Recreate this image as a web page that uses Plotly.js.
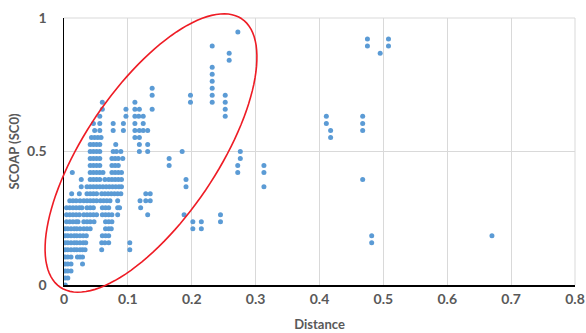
<!DOCTYPE html>
<html>
<head>
<meta charset="utf-8">
<script src="https://cdn.plot.ly/plotly-3.0.1.min.js"></script>
<style>
  html, body { margin: 0; padding: 0; background: #fff; }
  #chart { width: 586px; height: 333px; }
</style>
</head>
<body>
<div id="chart"></div>
<script>
// SCOAP levels are multiples of 1/38; each row lists the Distance values seen at that level
const STEP = 1 / 38;
const rowLevels = [0,1,2,3,4,5,6,7,8,9,10,11,12,13,14,15,16,17,18,19,20,21,22,23,24,25,26,27,28,29,30,31,32,33,34,35,36];
const rowDistances = [
  [0.002],
  [0.002, 0.006],
  [0.002, 0.006, 0.011],
  [0.002, 0.006, 0.011, 0.029],
  [0.002, 0.006, 0.011, 0.021, 0.025, 0.029],
  [0.002, 0.006, 0.011, 0.016, 0.020, 0.025, 0.029, 0.033, 0.059, 0.103],
  [0.002, 0.006, 0.011, 0.016, 0.020, 0.025, 0.030, 0.034, 0.059, 0.064, 0.070, 0.103],
  [0.002, 0.006, 0.011, 0.016, 0.020, 0.025, 0.030, 0.035, 0.060, 0.065, 0.070],
  [0.002, 0.006, 0.011, 0.016, 0.020, 0.025, 0.031, 0.036, 0.041, 0.065, 0.070, 0.074, 0.2017, 0.215],
  [0.004, 0.009, 0.014, 0.019, 0.022, 0.031, 0.036, 0.041, 0.047, 0.065, 0.070, 0.075, 0.2017, 0.215, 0.245],
  [0.004, 0.009, 0.014, 0.019, 0.024, 0.031, 0.036, 0.041, 0.046, 0.051, 0.060, 0.065, 0.070, 0.075, 0.084, 0.131, 0.188, 0.245],
  [0.004, 0.009, 0.014, 0.019, 0.024, 0.028, 0.036, 0.041, 0.046, 0.060, 0.065, 0.070, 0.084, 0.087, 0.120],
  [0.009, 0.014, 0.019, 0.025, 0.031, 0.036, 0.041, 0.046, 0.051, 0.057, 0.062, 0.067, 0.072, 0.084, 0.119, 0.128, 0.135],
  [0.012, 0.024, 0.036, 0.041, 0.046, 0.051, 0.059, 0.064, 0.069, 0.074, 0.079, 0.084, 0.089, 0.128, 0.135],
  [0.027, 0.036, 0.041, 0.046, 0.051, 0.056, 0.061, 0.066, 0.071, 0.076, 0.081, 0.086, 0.090, 0.191, 0.313],
  [0.027, 0.041, 0.046, 0.051, 0.056, 0.064, 0.070, 0.075, 0.080, 0.085, 0.090, 0.191, 0.4676],
  [0.013, 0.041, 0.046, 0.051, 0.056, 0.061, 0.075, 0.080, 0.085, 0.090, 0.272, 0.313],
  [0.041, 0.046, 0.051, 0.056, 0.075, 0.080, 0.085, 0.1646, 0.272, 0.313],
  [0.041, 0.046, 0.051, 0.056, 0.075, 0.080, 0.085, 0.092, 0.1646, 0.276],
  [0.041, 0.046, 0.051, 0.056, 0.077, 0.082, 0.089, 0.118, 0.131, 0.185, 0.276],
  [0.041, 0.046, 0.051, 0.056, 0.081, 0.118, 0.131],
  [0.043, 0.048, 0.053, 0.058, 0.111, 0.118, 0.4174],
  [0.048, 0.056, 0.077, 0.093, 0.111, 0.118, 0.124, 0.131, 0.4174, 0.4676],
  [0.046, 0.056, 0.077, 0.093, 0.111, 0.124, 0.4107, 0.4676],
  [0.056, 0.097, 0.111, 0.117, 0.124, 0.2524, 0.4107, 0.4676],
  [0.060, 0.097, 0.111, 0.118, 0.138, 0.2524],
  [0.060, 0.111, 0.198, 0.232, 0.2524],
  [0.138, 0.198, 0.232, 0.2524],
  [0.138, 0.232],
  [0.232],
  [0.232],
  [0.232],
  [0.2586],
  [0.2586, 0.495],
  [0.232, 0.475, 0.508],
  [0.475, 0.508],
  [0.2722]
];
// isolated points low on the right
const extraDistance = [0.4817, 0.4817, 0.670];
const extraScoapLevel = [7, 6, 7];

const xTickVals = [0, 0.1, 0.2, 0.3, 0.4, 0.5, 0.6, 0.7, 0.8];
const xTickText = ['0', '0.1', '0.2', '0.3', '0.4', '0.5', '0.6', '0.7', '0.8'];
const yTickVals = [0, 0.5, 1];
const yTickText = ['0', '0.5', '1'];

const distance = [];
const scoap = [];
rowLevels.forEach((lvl, i) => {
  (rowDistances[i] || []).forEach(d => { distance.push(d); scoap.push(lvl * STEP); });
});
extraDistance.forEach((d, i) => { distance.push(d); scoap.push(extraScoapLevel[i] * STEP); });

// Highlight ellipse (pixel-space geometry of the plot area, converted to paper units)
const M = {l: 64, r: 11, t: 18, b: 48};
const W = 586, H = 333;
const pw = W - M.l - M.r, ph = H - M.t - M.b;
const ell = {cx: 151, cy: 153, a: 162, b: 66, ux: 0.56, uy: -0.8285};
let path = '';
for (let i = 0; i <= 120; i++) {
  const t = i / 120 * 2 * Math.PI;
  const ca = ell.a * Math.cos(t), sb = ell.b * Math.sin(t);
  const px = ell.cx + ca * ell.ux - sb * ell.uy;
  const py = ell.cy + ca * ell.uy + sb * ell.ux;
  const fx = (px - M.l) / pw;
  const fy = (H - M.b - py) / ph;
  path += (i === 0 ? 'M ' : ' L ') + fx.toFixed(4) + ',' + fy.toFixed(4);
}
path += ' Z';

const FONT = 'Lato, "Open Sans", sans-serif';
const tickFont = {family: FONT, size: 14, color: '#595959', weight: 'bold'};

const trace = {
  x: distance,
  y: scoap,
  type: 'scatter',
  mode: 'markers',
  marker: {size: 5, color: '#5B9BD5'},
  hoverinfo: 'none'
};

const layout = {
  width: W, height: H,
  margin: M,
  paper_bgcolor: '#fff',
  plot_bgcolor: '#fff',
  showlegend: false,
  xaxis: {
    range: [0, 0.8],
    tickvals: xTickVals, ticktext: xTickText,
    showgrid: true, gridcolor: '#D9D9D9', gridwidth: 1,
    zeroline: false,
    showline: true, linecolor: '#000', linewidth: 2,
    ticks: '', tickfont: tickFont,
    title: {text: '<b>Distance</b>', font: {family: FONT, size: 13, color: '#595959'}, standoff: 14}
  },
  yaxis: {
    range: [0, 1],
    tickvals: yTickVals, ticktext: yTickText,
    showgrid: true, gridcolor: '#D9D9D9', gridwidth: 1,
    zeroline: false,
    showline: true, linecolor: '#000', linewidth: 1.5,
    ticks: '', tickfont: tickFont,
    ticklabelstandoff: 13,
    title: {text: '<b>SCOAP (SC0)</b>', font: {family: FONT, size: 13, color: '#595959'}, standoff: 4}
  },
  shapes: [
    {type: 'line', xref: 'paper', yref: 'paper', x0: 0, x1: 1, y0: 1, y1: 1, line: {color: '#D9D9D9', width: 1}, layer: 'below'},
    {type: 'line', xref: 'paper', yref: 'paper', x0: 1, x1: 1, y0: 0, y1: 1, line: {color: '#D9D9D9', width: 1}, layer: 'below'},
    {type: 'path', xref: 'paper', yref: 'paper', path: path, line: {color: '#EE1C25', width: 1.6}, fillcolor: 'rgba(0,0,0,0)'}
  ]
};

Plotly.newPlot('chart', [trace], layout, {displayModeBar: false, staticPlot: true});
</script>
</body>
</html>
